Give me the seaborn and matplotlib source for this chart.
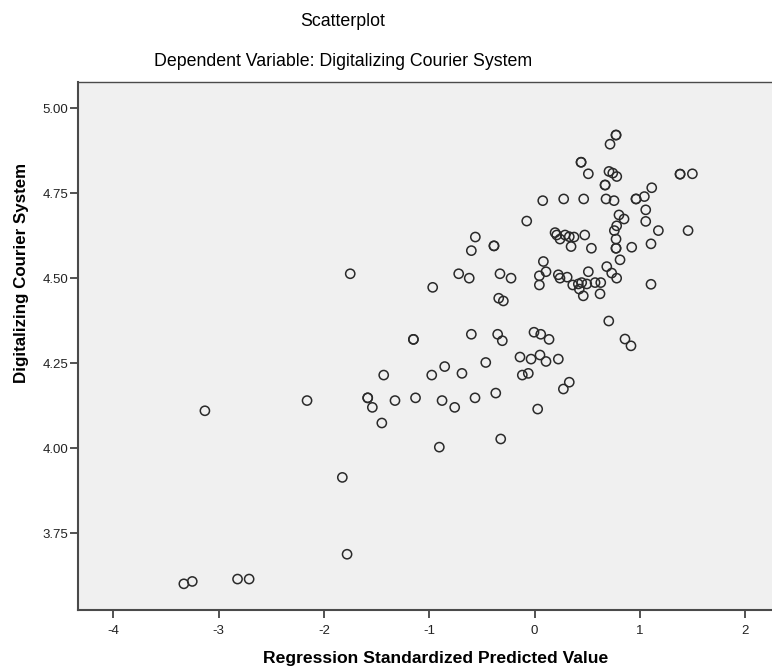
import numpy as np
import pandas as pd
import seaborn as sns
import matplotlib.pyplot as plt

# values
pred_x = [-3.33, -3.25, -2.82, -2.71, -1.825, -1.78, -3.13, -2.16, -1.75, -0.967,
          -1.15, -1.15, -0.853, -1.432, -0.976, -1.584, -1.584, -1.54, -1.325, -1.13,
          -0.878, -1.45, -0.904, -0.758, -0.689, -0.463, -0.116, -0.059, -0.138, -0.033,
          0.052, 0.109, 0.226, 0.33, 0.274, 0.03, -0.565, -0.368, -0.321, -0.6,
          -0.35, -0.306, -0.005, 0.059, 0.138, 0.705, 0.859, 0.916,
          -0.72, -0.62, -0.328, -0.223, 0.046, 0.109, 0.046, -0.34, -0.296, 0.226,
          0.242, 0.31, 0.363, 0.416, 0.448, 0.425, 0.463, 0.511, 0.496, 0.575,
          0.629, 0.622, 0.686, 0.733, 0.78, 0.812, 1.106, 0.084,
          0.774, 0.774, 0.717, 0.442, 0.442, 0.511, 0.707, 0.743, 0.781, 0.67,
          0.67, 0.078, 0.277, 0.467, 0.679, 0.755, -0.074, 0.195, 0.211, 0.242,
          0.29, 0.33, 0.375, 0.477, 0.347, 0.54, -0.562, -0.6, -0.385, -0.385,
          0.964, 0.964, 1.043, 1.113, 0.802, 0.85, 1.056, 1.056, 1.176, 0.78,
          0.758, 0.774, 0.774, 0.774, 0.923, 1.106, 1.382, 1.382, 1.499, 1.458]
digital = [3.601, 3.608, 3.615, 3.615, 3.914, 3.688, 4.11, 4.14, 4.513, 4.473,
           4.32, 4.32, 4.24, 4.215, 4.215, 4.148, 4.148, 4.12, 4.14, 4.148,
           4.14, 4.074, 4.003, 4.12, 4.22, 4.252, 4.215, 4.22, 4.268, 4.262,
           4.274, 4.255, 4.262, 4.194, 4.174, 4.115, 4.148, 4.162, 4.027, 4.335,
           4.335, 4.316, 4.341, 4.335, 4.32, 4.374, 4.321, 4.301,
           4.513, 4.50, 4.513, 4.50, 4.507, 4.519, 4.48, 4.441, 4.433, 4.51,
           4.50, 4.503, 4.48, 4.483, 4.487, 4.468, 4.448, 4.519, 4.483, 4.487,
           4.487, 4.454, 4.534, 4.515, 4.50, 4.554, 4.482, 4.549,
           4.921, 4.921, 4.894, 4.841, 4.841, 4.807, 4.814, 4.809, 4.799, 4.774,
           4.774, 4.728, 4.733, 4.733, 4.733, 4.728, 4.668, 4.634, 4.627, 4.615,
           4.627, 4.622, 4.621, 4.627, 4.593, 4.588, 4.621, 4.581, 4.595, 4.595,
           4.733, 4.733, 4.74, 4.766, 4.686, 4.674, 4.701, 4.667, 4.64, 4.654,
           4.64, 4.615, 4.588, 4.588, 4.591, 4.601, 4.806, 4.806, 4.807, 4.64]

x_ticks = [-4, -3, -2, -1, 0, 1, 2]
y_ticks = [3.75, 4.00, 4.25, 4.50, 4.75, 5.00]

df = pd.DataFrame({"pred": pred_x, "dcs": digital})

sns.set_style("white")
plt.rcParams["font.family"] = ["Liberation Sans", "DejaVu Sans"]

fig = plt.figure(figsize=(7.72, 6.72), dpi=100)
ax = fig.add_axes([78 / 772, 62 / 672, 694 / 772, 528 / 672])
ax.set_facecolor("#f0f0f0")

sns.scatterplot(data=df, x="pred", y="dcs", ax=ax, marker="o", s=44,
                facecolor="none", edgecolor="#2a2a2a", linewidth=1.1)

ax.set_xlim(-4.335, 2.255)
ax.set_ylim(3.524, 5.077)
ax.set_xticks(x_ticks)
ax.set_xticklabels([str(t) for t in x_ticks])
ax.set_yticks(y_ticks)
ax.set_yticklabels(["%.2f" % t for t in y_ticks])
ax.tick_params(bottom=True, left=True, direction="out", length=6, width=1.3,
               color="#444444", labelsize=9.5, labelcolor="#222222", pad=1)
ax.tick_params(axis="x", pad=5)

for side in ["left", "bottom", "top"]:
    ax.spines[side].set_color("#4a4a4a")
    ax.spines[side].set_linewidth(1.5)
ax.spines["top"].set_linewidth(1.0)
ax.spines["right"].set_visible(False)

ax.set_xlabel("")
ax.set_ylabel("")
fig.text(436 / 772, 1 - 659 / 672, "Regression Standardized Predicted Value",
         ha="center", va="center", fontsize=12.6, fontweight="bold", color="black")
fig.text(22 / 772, 1 - 273 / 672, "Digitalizing Courier System",
         ha="center", va="center", rotation=90, fontsize=12.2, fontweight="bold",
         color="black")
fig.text(343 / 772, 1 - 21 / 672, "Scatterplot", ha="center", va="center",
         fontsize=12.8, color="black")
fig.text(343 / 772, 1 - 62 / 672, "Dependent Variable: Digitalizing Courier System",
         ha="center", va="center", fontsize=12.8, color="black")

fig.savefig("out.png", dpi=100)
